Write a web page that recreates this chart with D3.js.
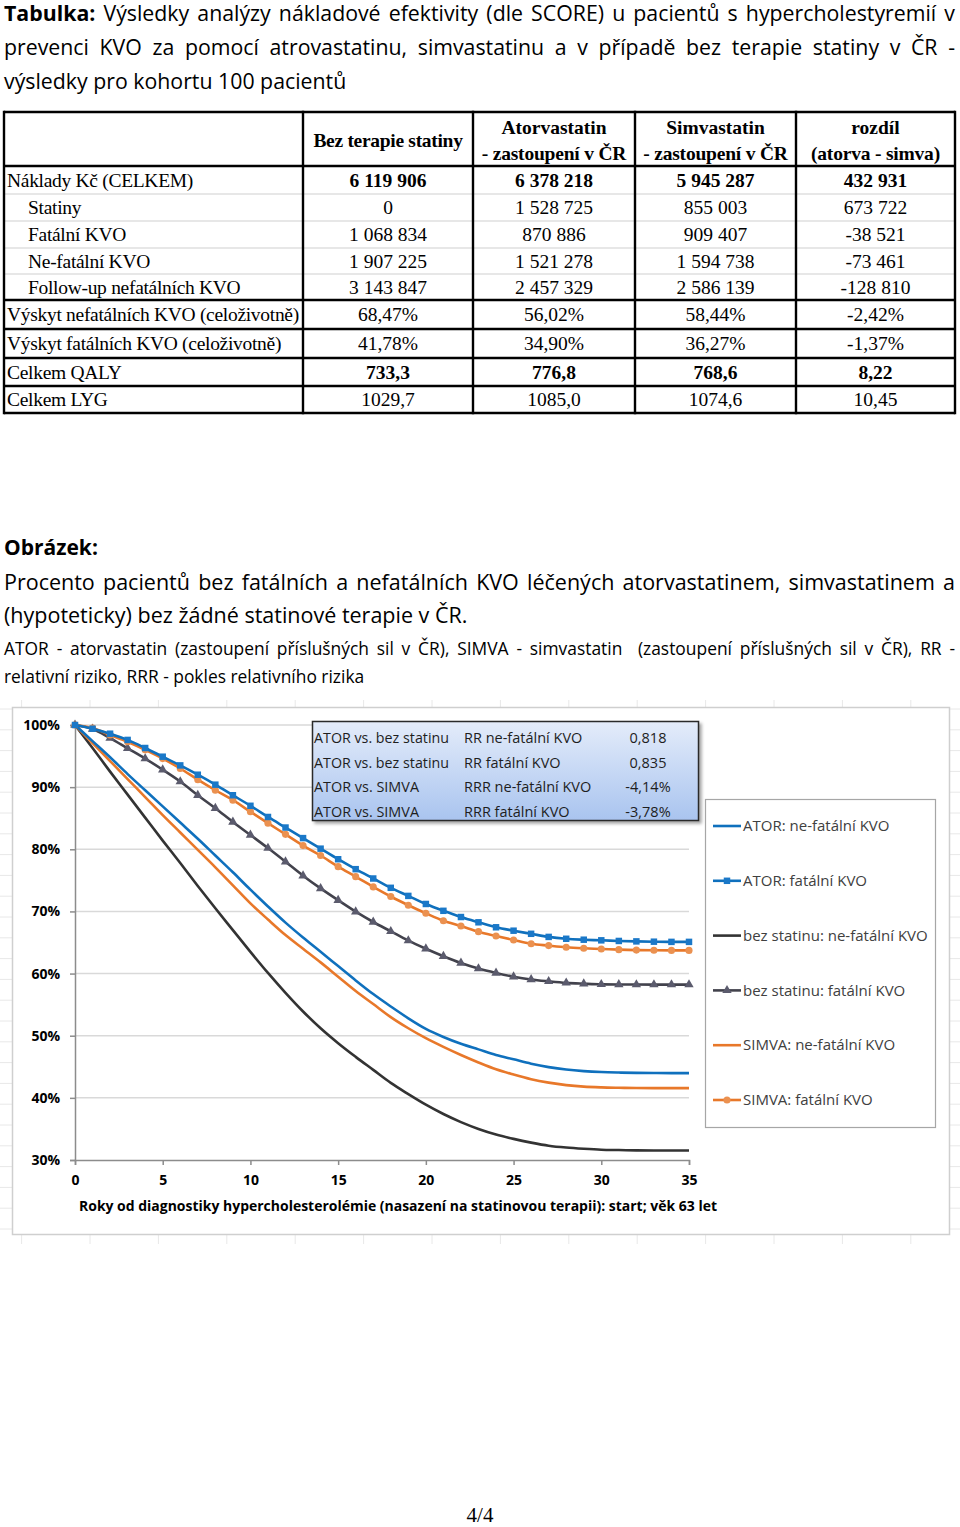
<!DOCTYPE html>
<html>
<head>
<meta charset="utf-8">
<script src="https://cdn.jsdelivr.net/npm/d3@7"></script>
<style>
  body { margin: 0; background: #fff; width: 960px; height: 1527px; position: relative; overflow: hidden; }
  #page { position: absolute; left: 0; top: 0; }
  .ln { position: absolute; left: 4px; white-space: nowrap; font-family: "Open Sans", sans-serif; color: #000; transform-origin: 0 0; }
  .just { text-align: justify; text-align-last: justify; white-space: normal; }
</style>
</head>
<body>
<svg id="page" width="960" height="1527"></svg>
<div id="text"></div>
<script>
// table data
var tableCols = ["Bez terapie statiny", "Atorvastatin|- zastoupení v ČR", "Simvastatin|- zastoupení v ČR", "rozdíl|(atorva - simva)"];
var rowLabels = ["Náklady Kč (CELKEM)", "Statiny", "Fatální KVO", "Ne-fatální KVO", "Follow-up nefatálních KVO",
  "Výskyt nefatálních KVO (celoživotně)", "Výskyt fatálních KVO (celoživotně)", "Celkem QALY", "Celkem LYG"];
var rowIndent = [false, true, true, true, true, false, false, false, false];
var rowBold = [true, false, false, false, false, false, false, true, false];
var colBez = ["6 119 906", "0", "1 068 834", "1 907 225", "3 143 847", "68,47%", "41,78%", "733,3", "1029,7"];
var colAtor = ["6 378 218", "1 528 725", "870 886", "1 521 278", "2 457 329", "56,02%", "34,90%", "776,8", "1085,0"];
var colSimva = ["5 945 287", "855 003", "909 407", "1 594 738", "2 586 139", "58,44%", "36,27%", "768,6", "1074,6"];
var colDiff = ["432 931", "673 722", "-38 521", "-73 461", "-128 810", "-2,42%", "-1,37%", "8,22", "10,45"];

// chart data: % of patients without event, by year
var years = [0,1,2,3,4,5,6,7,8,9,10,11,12,13,14,15,16,17,18,19,20,21,22,23,24,25,26,27,28,29,30,31,32,33,34,35];
var atorNonFatal = [100,97.4,94.8,92.1,89.5,86.9,84.3,81.7,79.0,76.3,73.5,70.8,68.2,65.8,63.5,61.2,58.9,56.7,54.7,52.8,51.1,49.8,48.7,47.8,46.9,46.2,45.5,44.95,44.55,44.3,44.15,44.07,44.02,44.0,43.98,43.98];
var atorFatal = [100,99.4,98.6,97.6,96.3,94.9,93.5,92.0,90.4,88.7,87.0,85.2,83.5,81.8,80.1,78.4,76.8,75.3,73.8,72.5,71.2,70.1,69.1,68.25,67.45,66.9,66.4,65.9,65.6,65.45,65.35,65.25,65.18,65.13,65.1,65.1];
var bezNonFatal = [100,96.3,92.5,88.8,85.1,81.4,77.8,74.1,70.5,67.0,63.5,60.1,56.9,53.9,51.2,48.8,46.6,44.5,42.4,40.6,38.9,37.4,36.1,35.0,34.1,33.4,32.8,32.3,32.0,31.8,31.65,31.6,31.55,31.53,31.53,31.53];
var bezFatal = [100,99.36,97.9,96.25,94.6,92.8,90.9,88.7,86.6,84.4,82.3,80.2,78.0,75.75,73.7,71.8,69.96,68.3,66.8,65.3,64.0,62.8,61.7,60.8,60.1,59.5,59.05,58.75,58.5,58.37,58.27,58.25,58.23,58.22,58.22,58.22];
var simvaNonFatal = [100,97.1,94.2,91.3,88.4,85.5,82.7,79.9,77.1,74.2,71.3,68.7,66.2,64.0,61.8,59.5,57.2,55.1,53.0,51.2,49.6,48.2,46.9,45.7,44.6,43.75,43.0,42.45,42.05,41.8,41.68,41.62,41.58,41.56,41.56,41.56];
var simvaFatal = [100,99.5,98.4,97.3,96.0,94.6,93.0,91.2,89.5,87.9,86.05,84.2,82.4,80.6,79.0,77.2,75.6,73.95,72.4,71.0,69.7,68.5,67.66,66.74,66.05,65.4,64.8,64.5,64.23,64.07,63.96,63.85,63.78,63.75,63.73,63.73];

var seriesNames = ["ATOR: ne-fatální KVO", "ATOR: fatální KVO", "bez statinu: ne-fatální KVO",
  "bez statinu: fatální KVO", "SIMVA: ne-fatální KVO", "SIMVA: fatální KVO"];
var yTicks = [30, 40, 50, 60, 70, 80, 90, 100];
var xTicks = [0, 5, 10, 15, 20, 25, 30, 35];

var rrCompare = ["ATOR vs. bez statinu", "ATOR vs. bez statinu", "ATOR vs. SIMVA", "ATOR vs. SIMVA"];
var rrMeasure = ["RR ne-fatální KVO", "RR fatální KVO", "RRR ne-fatální KVO", "RRR fatální KVO"];
var rrValue = ["0,818", "0,835", "-4,14%", "-3,78%"];

(function () {
  var svg = d3.select("#page");

  // ---------- text lines (justified like the document) ----------
  var lines = [
    { html: "<b>Tabulka:</b> Výsledky analýzy nákladové efektivity (dle SCORE) u pacientů s hypercholestyremií v", y: 13, size: 21.3, lh: 34, just: true, sx: 1 },
    { html: "prevenci KVO za pomocí atrovastatinu, simvastatinu a v případě bez terapie statiny v ČR -", y: 47, size: 21.3, lh: 34, just: true, sx: 1 },
    { html: "výsledky pro kohortu 100 pacientů", y: 81, size: 21.3, lh: 34, just: false, sx: 1 },
    { html: "<b>Obrázek:</b>", y: 547, size: 21, lh: 30, just: false, sx: 1 },
    { html: "Procento pacientů bez fatálních a nefatálních KVO léčených atorvastatinem, simvastatinem a", y: 582, size: 21.5, lh: 32, just: true, sx: 1 },
    { html: "(hypoteticky) bez žádné statinové terapie v ČR.", y: 615, size: 21.5, lh: 32, just: false, sx: 1 },
    { html: "ATOR - atorvastatin (zastoupení příslušných sil v ČR), SIMVA - simvastatin&nbsp; (zastoupení příslušných sil v ČR), RR -", y: 648, size: 17.4, lh: 26, just: true, sx: 1 },
    { html: "relativní riziko, RRR - pokles relativního rizika", y: 676, size: 17.4, lh: 26, just: false, sx: 1 }
  ];
  d3.select("#text").selectAll("div").data(lines).enter().append("div")
    .attr("class", function (d) { return d.just ? "ln just" : "ln"; })
    .style("top", function (d) { return (d.y - d.lh / 2) + "px"; })
    .style("font-size", function (d) { return d.size + "px"; })
    .style("line-height", function (d) { return d.lh + "px"; })
    .style("width", function (d) { return d.just ? (951 / d.sx) + "px" : null; })
    .style("transform", function (d) { return "scaleX(" + d.sx + ")"; })
    .html(function (d) { return d.html; });

  // ---------- table ----------
  var colX = [4, 303, 473, 635, 796, 955];
  var rowY = [112, 166, 194, 221, 248, 274, 300, 329, 358, 386, 413];
  var tbl = svg.append("g").attr("font-family", "'Liberation Serif', 'Times New Roman', serif")
    .attr("font-size", 19.5).attr("fill", "#000");

  // horizontal rules
  rowY.forEach(function (y, i) {
    var grey = i >= 2 && i <= 5;
    tbl.append("line").attr("x1", colX[0]).attr("x2", colX[5]).attr("y1", y).attr("y2", y)
      .attr("stroke", grey ? "#cfcfcf" : "#000").attr("stroke-width", grey ? 1.2 : 2.4);
  });
  colX.forEach(function (x) {
    tbl.append("line").attr("x1", x).attr("x2", x).attr("y1", rowY[0] - 1.2).attr("y2", rowY[10] + 1.2)
      .attr("stroke", "#000").attr("stroke-width", 2.4);
  });

  // header
  tableCols.forEach(function (h, c) {
    var cx = (colX[c + 1] + colX[c + 2]) / 2;
    var parts = h.split("|");
    if (parts.length === 1) {
      tbl.append("text").attr("x", cx).attr("y", 140).attr("dy", "0.35em").attr("text-anchor", "middle")
        .attr("font-weight", "bold").attr("letter-spacing", -0.3).text(parts[0]);
    } else {
      tbl.append("text").attr("x", cx).attr("y", 127).attr("dy", "0.35em").attr("text-anchor", "middle")
        .attr("font-weight", "bold").text(parts[0]);
      tbl.append("text").attr("x", cx).attr("y", 153).attr("dy", "0.35em").attr("text-anchor", "middle")
        .attr("font-weight", "bold").attr("letter-spacing", -0.2).text(parts[1]);
    }
  });

  // body
  var cols = [colBez, colAtor, colSimva, colDiff];
  rowLabels.forEach(function (lab, r) {
    var cy = (rowY[r + 1] + rowY[r + 2]) / 2;
    tbl.append("text").attr("x", rowIndent[r] ? 28 : 7).attr("y", cy).attr("dy", "0.35em")
      .attr("letter-spacing", -0.3).text(lab);
    cols.forEach(function (col, c) {
      tbl.append("text").attr("x", (colX[c + 1] + colX[c + 2]) / 2).attr("y", cy).attr("dy", "0.35em")
        .attr("text-anchor", "middle").attr("font-weight", rowBold[r] ? "bold" : "normal").text(col[r]);
    });
  });

  // page number
  svg.append("text").attr("x", 480).attr("y", 1515).attr("dy", "0.35em").attr("text-anchor", "middle")
    .attr("font-family", "'Liberation Serif', serif").attr("font-size", 21).text("4/4");

  // ---------- chart ----------
  // faint spreadsheet cell grid behind the chart object
  var cells = svg.append("g").attr("stroke", "#e8e8e8").attr("stroke-width", 1);
  d3.range(21.6, 960, 68.4).forEach(function (x) {
    cells.append("line").attr("x1", x).attr("x2", x).attr("y1", 700).attr("y2", 1244);
  });
  d3.range(709, 1244, 20.8).forEach(function (y) {
    cells.append("line").attr("x1", 0).attr("x2", 960).attr("y1", y).attr("y2", y);
  });
  svg.append("rect").attr("x", 12.5).attr("y", 707.5).attr("width", 937).attr("height", 527)
    .attr("fill", "#fff").attr("stroke", "#cfcfcf").attr("stroke-width", 1.5);

  var x = d3.scaleLinear().domain([0, 35]).range([75, 689]);
  var y = d3.scaleLinear().domain([30, 100]).range([1160, 725]);
  var chartFont = "'Open Sans', 'Noto Sans', sans-serif";

  // gridlines
  svg.append("g").selectAll("line").data(yTicks.slice(1)).enter().append("line")
    .attr("x1", x(0)).attr("x2", x(35)).attr("y1", function (d) { return y(d); }).attr("y2", function (d) { return y(d); })
    .attr("stroke", "#d9d9d9").attr("stroke-width", 1.5);

  // axes
  var yAxis = svg.append("g").attr("transform", "translate(" + x(0) + ",0)")
    .call(d3.axisLeft(y).tickValues(yTicks).tickSize(5).tickFormat(function (d) { return d + "%"; }));
  var xAxis = svg.append("g").attr("transform", "translate(0," + y(30) + ")")
    .call(d3.axisBottom(x).tickValues(xTicks).tickSize(5).tickFormat(d3.format("d")));
  [yAxis, xAxis].forEach(function (g) {
    g.select(".domain").attr("stroke", "#8c8c8c").attr("stroke-width", 1.5);
    g.selectAll(".tick line").attr("stroke", "#8c8c8c").attr("stroke-width", 1.5);
    g.selectAll(".tick text").attr("font-family", chartFont).attr("font-size", 14)
      .attr("font-weight", "bold").attr("fill", "#000");
  });
  yAxis.selectAll(".tick text").attr("x", -15);
  xAxis.selectAll(".tick text").attr("y", 15);

  svg.append("text").attr("x", 79).attr("y", 1206).attr("dy", "0.35em")
    .attr("font-family", chartFont).attr("font-size", 14).attr("font-weight", "bold")
    .attr("textLength", 638).attr("lengthAdjust", "spacingAndGlyphs")
    .text("Roky od diagnostiky hypercholesterolémie (nasazení na statinovou terapii): start;  věk 63 let");

  // series
  var series = [
    { name: seriesNames[0], values: atorNonFatal, color: "#0f70bd", marker: null },
    { name: seriesNames[1], values: atorFatal, color: "#0f70bd", marker: "square", mfill: "#1a78c8" },
    { name: seriesNames[2], values: bezNonFatal, color: "#333333", marker: null },
    { name: seriesNames[3], values: bezFatal, color: "#42424c", marker: "triangle", mfill: "#5b5b6d" },
    { name: seriesNames[4], values: simvaNonFatal, color: "#e8782a", marker: null },
    { name: seriesNames[5], values: simvaFatal, color: "#e8782a", marker: "circle", mfill: "#eb9150" }
  ];
  var line = d3.line().x(function (d, i) { return x(years[i]); }).y(function (d) { return y(d); })
    .curve(d3.curveMonotoneX);
  var symbolOf = { square: d3.symbolSquare, triangle: d3.symbolTriangle, circle: d3.symbolCircle };
  var sizeOf = { square: 42, triangle: 38, circle: 40 };

  var drawOrder = [2, 4, 0, 3, 5, 1];
  drawOrder.forEach(function (k) {
    var s = series[k];
    svg.append("path").datum(s.values).attr("d", line).attr("fill", "none")
      .attr("stroke", s.color).attr("stroke-width", 2.6).attr("stroke-linejoin", "round");
    if (s.marker) {
      svg.append("g").selectAll("path").data(s.values).enter().append("path")
        .attr("transform", function (d, i) { return "translate(" + x(years[i]) + "," + y(d) + ")"; })
        .attr("d", d3.symbol().type(symbolOf[s.marker]).size(sizeOf[s.marker]))
        .attr("fill", s.mfill);
    }
  });

  // RR info box
  var defs = svg.append("defs");
  var grad = defs.append("linearGradient").attr("id", "rrGrad").attr("x1", 0).attr("x2", 0).attr("y1", 0).attr("y2", 1);
  grad.append("stop").attr("offset", "0%").attr("stop-color", "#e4ecfa");
  grad.append("stop").attr("offset", "100%").attr("stop-color", "#a9c4ef");
  var f = defs.append("filter").attr("id", "shadow").attr("x", "-5%").attr("y", "-5%").attr("width", "115%").attr("height", "130%");
  f.append("feDropShadow").attr("dx", 2.5).attr("dy", 2.5).attr("stdDeviation", 1.6).attr("flood-color", "#000").attr("flood-opacity", 0.35);

  var box = svg.append("g");
  box.append("rect").attr("x", 312.5).attr("y", 721.5).attr("width", 386).attr("height", 99)
    .attr("fill", "url(#rrGrad)").attr("stroke", "#2b2b2b").attr("stroke-width", 1.5).attr("filter", "url(#shadow)");
  var rrY = d3.scalePoint().domain(d3.range(rrCompare.length)).range([738, 812]);
  var rows = box.selectAll("g.rr").data(rrCompare).enter().append("g").attr("class", "rr")
    .attr("font-family", chartFont).attr("font-size", 14.5).attr("fill", "#1e1e1e");
  rows.append("text").attr("x", 314).attr("y", function (d, i) { return rrY(i); }).attr("dy", "0.35em")
    .attr("textLength", function (d) { return d.length > 15 ? 135 : 105; }).attr("lengthAdjust", "spacingAndGlyphs")
    .text(function (d) { return d; });
  rows.append("text").attr("x", 464).attr("y", function (d, i) { return rrY(i); }).attr("dy", "0.35em")
    .text(function (d, i) { return rrMeasure[i]; });
  rows.append("text").attr("x", 648).attr("y", function (d, i) { return rrY(i); }).attr("dy", "0.35em")
    .attr("text-anchor", "middle").text(function (d, i) { return rrValue[i]; });

  // legend
  var leg = svg.append("g");
  leg.append("rect").attr("x", 705.5).attr("y", 799.5).attr("width", 230).attr("height", 328)
    .attr("fill", "#fff").attr("stroke", "#a6a6a6").attr("stroke-width", 1.2);
  var legY = d3.scalePoint().domain(d3.range(series.length)).range([826, 1100]);
  series.forEach(function (s, i) {
    var ly = legY(i);
    leg.append("line").attr("x1", 713).attr("x2", 741).attr("y1", ly).attr("y2", ly)
      .attr("stroke", s.color).attr("stroke-width", 2.6);
    if (s.marker) {
      leg.append("path").attr("transform", "translate(727," + ly + ")")
        .attr("d", d3.symbol().type(symbolOf[s.marker]).size(sizeOf[s.marker])).attr("fill", s.mfill);
    }
    leg.append("text").attr("x", 743).attr("y", ly).attr("dy", "0.35em")
      .attr("font-family", chartFont).attr("font-size", 15).attr("fill", "#404040").text(s.name);
  });
})();
</script>
</body>
</html>
